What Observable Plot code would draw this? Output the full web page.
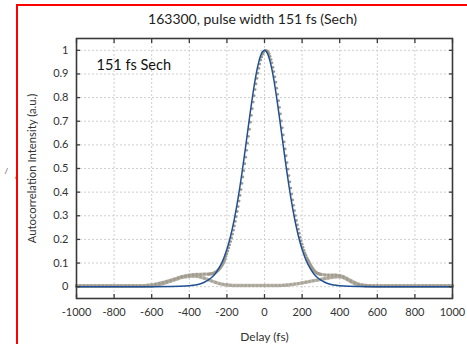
<!DOCTYPE html>
<html><head><meta charset="utf-8">
<script src="https://cdn.jsdelivr.net/npm/d3@7"></script>
<script src="https://cdn.jsdelivr.net/npm/@observablehq/plot@0.6"></script>
<style>
html,body{margin:0;padding:0;background:#fff;overflow:hidden;width:467px;height:344px;}
#chart{position:absolute;left:0;top:0;}
#frame{position:absolute;left:16px;top:4px;width:520px;height:420px;border:2px solid #f00;box-sizing:border-box;pointer-events:none;}
</style></head><body>
<div id="chart"></div><div id="frame"></div>
<script>
const titleText = "163300, pulse width 151 fs (Sech)";
const noteText = "151 fs Sech";
const xLabel = "Delay (fs)";
const yLabel = "Autocorrelation Intensity (a.u.)";
const xTicks = [-1000,-800,-600,-400,-200,0,200,400,600,800,1000];
const yTicks = [0,0.1,0.2,0.3,0.4,0.5,0.6,0.7,0.8,0.9,1];

// Sech^2 fit (blue)
const fitDelay = [-1000,-600,-500,-450,-400,-380,-360,-340,-320,-300,-280,-260,-240,-220,-200,-190,-180,-170,-160,-150,-140,-130,-120,-110,-100,-90,-80,-70,-60,-50,-40,-30,-20,-10,0,10,20,30,40,50,60,70,80,90,100,110,120,130,140,150,160,170,180,190,200,220,240,260,280,300,320,340,360,380,400,450,500,600,1000];
const fitValue = [0,0.0001,0.0005,0.0014,0.0039,0.0058,0.0086,0.0127,0.0187,0.0274,0.0397,0.0571,0.0812,0.1141,0.1581,0.1850,0.2155,0.2498,0.2882,0.3305,0.3769,0.4270,0.4805,0.5368,0.5950,0.6543,0.7133,0.7706,0.8247,0.8741,0.9171,0.9524,0.9785,0.9946,1.0000,0.9946,0.9785,0.9524,0.9171,0.8741,0.8247,0.7706,0.7133,0.6543,0.5950,0.5368,0.4805,0.4270,0.3769,0.3305,0.2882,0.2498,0.2155,0.1850,0.1581,0.1141,0.0812,0.0571,0.0397,0.0274,0.0187,0.0127,0.0086,0.0058,0.0039,0.0014,0.0005,0.0001,0];

// Measured autocorrelation trace (gray dots)
const measuredDelay = [-1000,-980,-960,-940,-920,-900,-880,-860,-840,-820,-800,-780,-760,-740,-720,-700,-680,-660,-640,-620,-600,-580,-560,-540,-520,-500,-480,-460,-440,-420,-400,-380,-360,-340,-320,
-300,-295,-290,-285,-280,-275,-270,-265,-260,-255,-250,-245,-240,-235,-230,-225,-220,-215,-210,-205,-200,-195,-190,-185,-180,-175,-170,-165,-160,-155,-150,-145,-140,-135,-130,-125,-120,-115,-110,-105,-100,-95,-90,-85,-80,-75,-70,-65,-60,-55,-50,-45,-40,-35,-30,-25,-20,-15,-10,-5,
0,5,10,15,20,25,30,35,40,45,50,55,60,65,70,75,80,85,90,95,100,105,110,115,120,125,130,135,140,145,150,155,160,165,170,175,180,185,190,195,200,205,210,215,220,225,230,235,240,245,250,255,260,265,270,275,280,285,290,295,300,
320,340,360,380,400,420,440,460,480,500,520,540,560,580,600,620,640,660,680,700,720,740,760,780,800,820,840,860,880,900,920,940,960,980,1000];
const measuredValue = [0.003,0.003,0.003,0.003,0.003,0.003,0.003,0.003,0.003,0.003,0.003,0.003,0.003,0.003,0.003,0.003,0.003,0.003,0.004,0.006,0.008,0.011,0.014,0.018,0.022,0.027,0.032,0.037,0.042,0.046,0.049,0.051,0.052,0.052,0.053,
0.053,0.053,0.054,0.054,0.055,0.056,0.057,0.059,0.061,0.064,0.067,0.071,0.075,0.080,0.086,0.092,0.099,0.108,0.117,0.128,0.139,0.151,0.164,0.177,0.191,0.206,0.222,0.239,0.257,0.276,0.296,0.318,0.339,0.362,0.386,0.411,0.437,0.464,0.491,0.520,0.548,0.577,0.607,0.636,0.666,0.696,0.725,0.753,0.781,0.808,0.834,0.858,0.881,0.903,0.924,0.942,0.959,0.972,0.983,0.991,
0.997,1.000,0.999,0.997,0.992,0.985,0.974,0.961,0.947,0.928,0.910,0.888,0.865,0.840,0.814,0.787,0.759,0.731,0.701,0.672,0.642,0.613,0.583,0.554,0.525,0.497,0.470,0.443,0.417,0.392,0.367,0.344,0.322,0.301,0.280,0.261,0.243,0.226,0.209,0.194,0.180,0.166,0.154,0.143,0.133,0.123,0.114,0.106,0.098,0.091,0.084,0.078,0.072,0.067,0.063,0.060,0.057,0.055,0.054,0.053,0.052,
0.050,0.049,0.049,0.049,0.047,0.042,0.034,0.025,0.017,0.011,0.007,0.005,0.004,0.003,0.003,0.003,0.003,0.003,0.003,0.003,0.003,0.003,0.003,0.003,0.003,0.003,0.003,0.003,0.003,0.003,0.003,0.003,0.003,0.003,0.003];

// Second (return-sweep) gray trace
const sweepDelay = [-1000,-980,-960,-940,-920,-900,-880,-860,-840,-820,-800,-780,-760,-740,-720,-700,-680,-660,-640,-620,-600,-580,-560,-540,-520,-500,-480,-460,-440,-420,-400,-380,-360,-340,-320,-300,-280,-260,-240,-220,-200,-180,-160,-140,-120,-100,-80,-60,-40,-20,0,20,40,60,80,100,120,140,160,180,200,220,240,260,280,300,320,340,360,380,400,420,440,460,480,500,520,540,560,580,600,620,640,660,680,700,720,740,760,780,800,820,840,860,880,900,920,940,960,980,1000];
const sweepValue = [0.003,0.003,0.003,0.003,0.003,0.003,0.003,0.003,0.003,0.003,0.003,0.003,0.003,0.003,0.003,0.003,0.003,0.003,0.003,0.003,0.003,0.006,0.009,0.013,0.018,0.023,0.029,0.034,0.039,0.042,0.044,0.045,0.044,0.041,0.036,0.030,0.024,0.018,0.013,0.010,0.008,0.006,0.005,0.005,0.005,0.005,0.005,0.005,0.005,0.005,0.005,0.005,0.005,0.005,0.005,0.006,0.007,0.009,0.011,0.013,0.016,0.019,0.022,0.025,0.028,0.031,0.034,0.037,0.040,0.042,0.042,0.038,0.030,0.021,0.013,0.008,0.005,0.003,0.003,0.003,0.003,0.003,0.003,0.003,0.003,0.003,0.003,0.003,0.003,0.003,0.003,0.003,0.003,0.003,0.003,0.003,0.003,0.003,0.003,0.003,0.003];

const fit = fitDelay.map((x, i) => ({x, v: fitValue[i]}));
const measured = measuredDelay.map((x, i) => ({x, v: measuredValue[i]}));
const sweep = sweepDelay.map((x, i) => ({x, v: sweepValue[i]}));

const gray = "#aaa598";
const blue = "#1f4f94";
const font = "Lato, 'Open Sans', sans-serif";

const chart = Plot.plot({
  width: 467, height: 344,
  marginLeft: 76, marginRight: 15, marginTop: 38, marginBottom: 46,
  style: {fontFamily: font, fontSize: "11px", color: "#333", background: "transparent", overflow: "visible"},
  x: {domain: [-1000, 1000]},
  y: {domain: [-0.05, 1.05]},
  marks: [
    Plot.gridX({ticks: xTicks, stroke: "#cfcfcf", strokeOpacity: 1, strokeDasharray: "2,2"}),
    Plot.gridY({ticks: yTicks, stroke: "#cfcfcf", strokeOpacity: 1, strokeDasharray: "2,2"}),
    Plot.line(sweep, {x: "x", y: "v", stroke: gray, strokeWidth: 3.4, strokeOpacity: 0.75, curve: "catmull-rom"}),
    Plot.dot(sweep, {x: "x", y: "v", r: 1.6, fill: gray, stroke: null}),
    Plot.line(measured, {x: "x", y: d => d.v < 0.12 ? d.v : NaN, stroke: gray, strokeWidth: 3.4, strokeOpacity: 0.75, curve: "catmull-rom"}),
    Plot.dot(measured, {x: "x", y: "v", r: 1.4, fill: "#9f9a8d", stroke: null}),
    Plot.line(fit, {x: "x", y: "v", stroke: blue, strokeWidth: 1.5, curve: "catmull-rom"}),
    Plot.frame({stroke: "#3a3a3a", strokeWidth: 1.6}),
    Plot.axisX({anchor: "bottom", ticks: xTicks, tickSize: -4, tickPadding: 14, tickFormat: d => String(d), stroke: "#3a3a3a", strokeWidth: 1.3, fill: "#333", fontSize: 11, label: null}),
    Plot.axisX({anchor: "top", ticks: xTicks, tickSize: -4, tickFormat: () => "", stroke: "#3a3a3a", strokeWidth: 1.3, label: null}),
    Plot.axisY({anchor: "left", ticks: yTicks, tickSize: -4, tickPadding: 12, tickFormat: d => String(d), stroke: "#3a3a3a", strokeWidth: 1.3, fill: "#333", fontSize: 11, label: null}),
    Plot.axisY({anchor: "left", ticks: [], label: yLabel, labelAnchor: "center", labelOffset: 49, labelArrow: "none", fontSize: 11.3, fill: "#333"}),
    Plot.axisY({anchor: "right", ticks: yTicks, tickSize: -4, tickFormat: () => "", stroke: "#3a3a3a", strokeWidth: 1.3, label: null}),
    Plot.text([titleText], {frameAnchor: "top", dx: -12, dy: -19, lineAnchor: "middle", fontSize: 14, fill: "#222"}),
    Plot.text([noteText], {frameAnchor: "top-left", dx: 20, dy: 27, textAnchor: "start", lineAnchor: "middle", fontSize: 14.5, fill: "#111"}),
    Plot.text([xLabel], {frameAnchor: "bottom", dy: 39, lineAnchor: "middle", fontSize: 12, fill: "#333"}),
    Plot.text(["/"], {frameAnchor: "left", dx: -72, dy: 3, lineAnchor: "middle", fontSize: 8, fill: "#444"}),
    Plot.text(["/"], {frameAnchor: "left", dx: -62, dy: 8, lineAnchor: "middle", fontSize: 8, fill: "#444"})
  ]
});
document.getElementById("chart").appendChild(chart);
</script></body></html>
